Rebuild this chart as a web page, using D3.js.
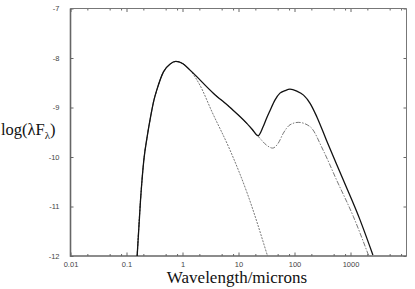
<!DOCTYPE html>
<html><head><meta charset="utf-8">
<script src="https://cdn.jsdelivr.net/npm/d3@7"></script>
<style>
html,body{margin:0;padding:0;background:#fff;}
svg{display:block;}
</style></head>
<body>
<svg id="c" width="415" height="289"></svg>
<script>
// ---- data ----
const xTickValues = [0.01, 0.1, 1, 10, 100, 1000];
const xTickLabels = ["0.01", "0.1", "1", "10", "100", "1000"];
const yTickValues = [-7, -8, -9, -10, -11, -12];
const yTickLabels = ["-7", "-8", "-9", "-10", "-11", "-12"];

// total SED (solid)
const totalLambda = [0.155, 0.178, 0.204, 0.234, 0.269, 0.309, 0.347, 0.457, 0.603, 0.76, 1.0, 1.35, 3.55, 7.08, 14.1, 17.8, 22.4, 27.5, 31.6, 36.3, 44.7, 55, 67.6, 83, 110, 145, 191, 251, 372, 741, 1479, 2512];
const totalLogF   = [-12.0, -10.87, -10.06, -9.59, -9.19, -8.85, -8.65, -8.28, -8.12, -8.07, -8.11, -8.24, -8.71, -9.0, -9.32, -9.45, -9.57, -9.39, -9.22, -9.07, -8.85, -8.71, -8.66, -8.63, -8.67, -8.75, -8.92, -9.19, -9.66, -10.46, -11.27, -11.98];

// star + cold component (dash-dot)
const dustLambda = [0.155, 0.178, 0.204, 0.234, 0.269, 0.309, 0.347, 0.457, 0.603, 0.76, 1.0, 1.35, 3.55, 7.08, 14.1, 20.0, 24.0, 31.6, 40.7, 51.3, 63.1, 83, 117, 191, 324, 562, 1122, 2089];
const dustLogF   = [-12.0, -10.87, -10.06, -9.59, -9.19, -8.85, -8.65, -8.28, -8.12, -8.07, -8.11, -8.24, -8.71, -9.0, -9.33, -9.52, -9.62, -9.76, -9.82, -9.72, -9.52, -9.35, -9.30, -9.39, -9.86, -10.46, -11.2, -11.98];

// stellar photosphere only (dotted)
const starLambda = [0.155, 0.178, 0.204, 0.234, 0.269, 0.309, 0.347, 0.457, 0.603, 0.76, 1.0, 1.35, 2.05, 3.37, 7.05, 14.5, 33.0];
const starLogF   = [-12.0, -10.87, -10.06, -9.59, -9.19, -8.85, -8.65, -8.28, -8.12, -8.07, -8.11, -8.24, -8.55, -9.09, -9.86, -10.75, -12.0];

// ---- chart ----
const svg = d3.select("#c");
const x = d3.scaleLog().domain([0.01, 10000]).range([70.5, 406.5]);
const y = d3.scaleLinear().domain([-12, -7]).range([256, 8.5]);

const minors = [];
for (let d = 0.01; d < 10000; d *= 10) { [2, 5, 8].forEach(m => minors.push(+(d * m).toPrecision(3))); }

const tickFont = "Liberation Sans, Arial, sans-serif";
const tickColor = "#444";

// bottom axis
const gB = svg.append("g").attr("transform", `translate(0,${y(-12)})`);
gB.call(d3.axisBottom(x).tickValues(xTickValues).tickSizeInner(-3.5).tickSizeOuter(0).tickPadding(6)
  .tickFormat((d, i) => xTickLabels[i]));
const gBm = svg.append("g").attr("transform", `translate(0,${y(-12)})`);
gBm.call(d3.axisBottom(x).tickValues(minors).tickSizeInner(-2).tickSizeOuter(0).tickFormat(""));
// top axis
const gT = svg.append("g").attr("transform", `translate(0,${y(-7)})`);
gT.call(d3.axisTop(x).tickValues(xTickValues).tickSizeInner(-3.5).tickSizeOuter(0).tickFormat(""));
const gTm = svg.append("g").attr("transform", `translate(0,${y(-7)})`);
gTm.call(d3.axisTop(x).tickValues(minors).tickSizeInner(-2).tickSizeOuter(0).tickFormat(""));
// left axis
const gL = svg.append("g").attr("transform", `translate(${x(0.01)},0)`);
gL.call(d3.axisLeft(y).tickValues(yTickValues).tickSizeInner(-3).tickSizeOuter(0).tickPadding(11)
  .tickFormat((d, i) => yTickLabels[i]));
// right axis
const gR = svg.append("g").attr("transform", `translate(${x(10000)},0)`);
gR.call(d3.axisRight(y).tickValues(yTickValues).tickSizeInner(-3).tickSizeOuter(0).tickFormat(""));

svg.selectAll(".domain").remove();
svg.selectAll(".tick line").attr("stroke", "#666").attr("stroke-width", 1);
svg.selectAll(".tick text").attr("font-family", tickFont).attr("font-size", 7.5).attr("fill", tickColor);

// frame
const fr = svg.append("g").attr("fill", "none");
fr.append("line").attr("x1", x(0.01)).attr("x2", x(10000)).attr("y1", y(-7)).attr("y2", y(-7)).attr("stroke", "#777").attr("stroke-width", 1);
fr.append("line").attr("x1", x(10000)).attr("x2", x(10000)).attr("y1", y(-7)).attr("y2", y(-12)).attr("stroke", "#777").attr("stroke-width", 1);
fr.append("line").attr("x1", x(0.01)).attr("x2", x(0.01)).attr("y1", y(-7)).attr("y2", y(-12) + 0.8).attr("stroke", "#666").attr("stroke-width", 1.6);
fr.append("line").attr("x1", x(0.01)).attr("x2", x(10000)).attr("y1", y(-12)).attr("y2", y(-12)).attr("stroke", "#666").attr("stroke-width", 1.6);

// curves
const line = d3.line().x(d => x(d[0])).y(d => y(d[1])).curve(d3.curveMonotoneX);
const zip = (a, b) => a.map((v, i) => [v, b[i]]);

svg.append("path").datum(zip(starLambda, starLogF)).attr("d", line)
  .attr("fill", "none").attr("stroke", "#555").attr("stroke-width", 0.8).attr("stroke-dasharray", "2,1.2");
svg.append("path").datum(zip(dustLambda, dustLogF)).attr("d", line)
  .attr("fill", "none").attr("stroke", "#555").attr("stroke-width", 0.8).attr("stroke-dasharray", "5,1.5,1.5,1.5");
svg.append("path").datum(zip(totalLambda, totalLogF)).attr("d", line)
  .attr("fill", "none").attr("stroke", "#111").attr("stroke-width", 1.3);

// titles
svg.append("text").attr("x", 237).attr("y", 283).attr("text-anchor", "middle")
  .attr("font-family", "Liberation Serif, Times New Roman, serif").attr("font-size", 17).attr("fill", "#111")
  .text("Wavelength/microns");
const yl = svg.append("text").attr("x", 1).attr("y", 135)
  .attr("font-family", "Liberation Serif, Times New Roman, serif").attr("font-size", 16.5).attr("fill", "#111");
yl.append("tspan").text("log(λF");
yl.append("tspan").attr("font-size", 11).attr("dy", 4).text("λ");
yl.append("tspan").attr("dy", -4).text(")");
</script>
</body></html>
